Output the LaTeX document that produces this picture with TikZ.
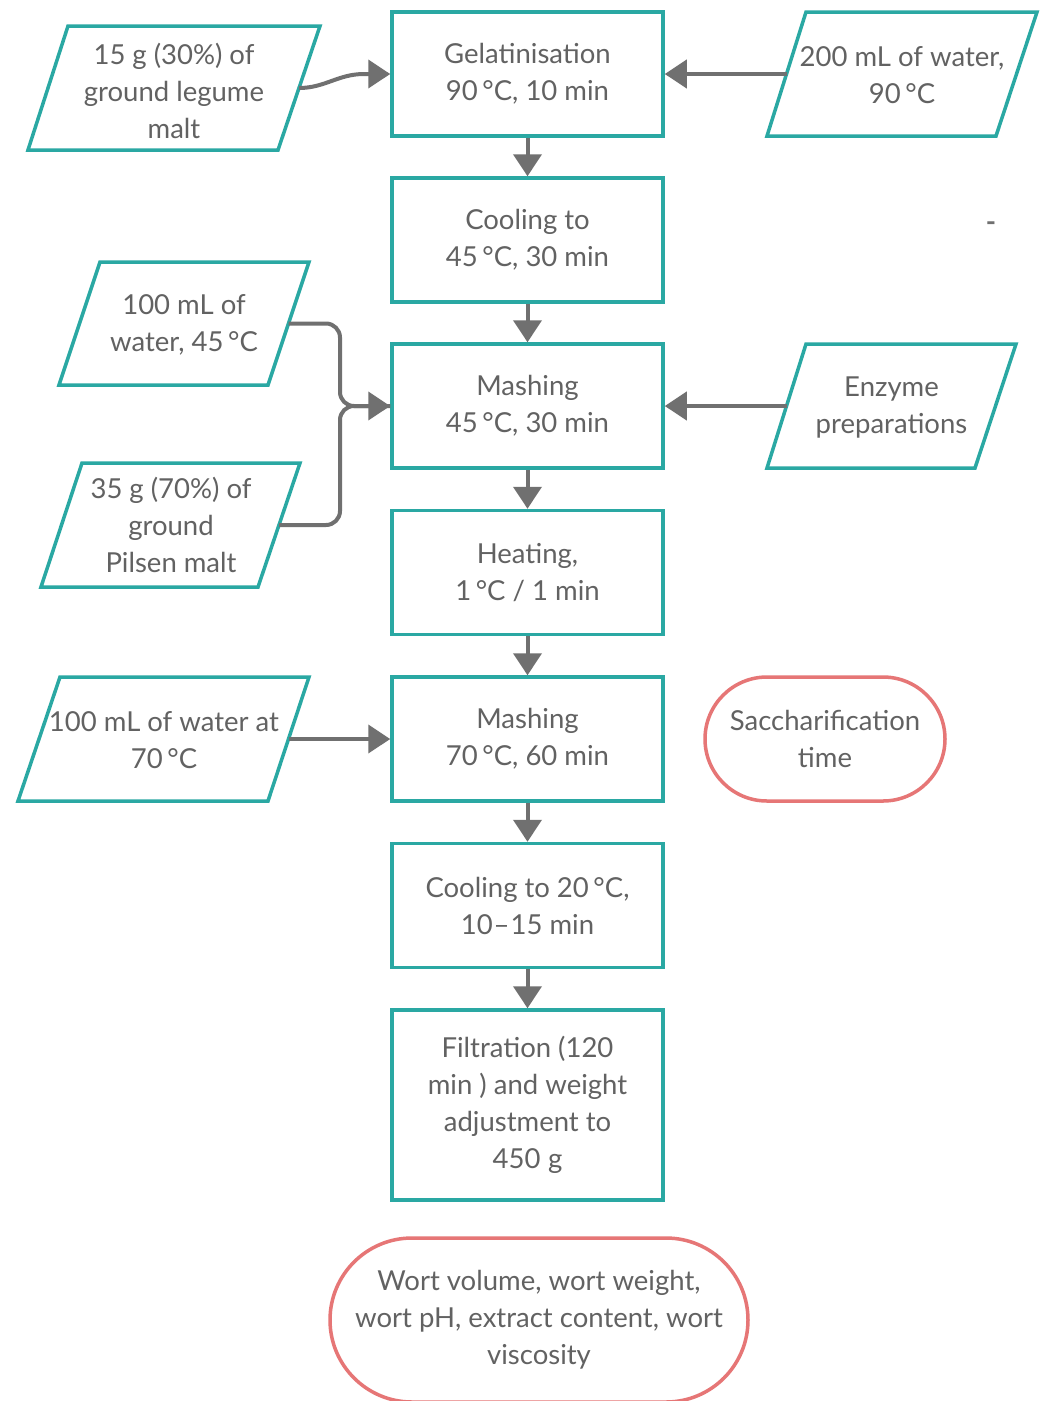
\documentclass[tikz,border=0pt]{standalone}
\usepackage{fontspec}
\setmainfont{Lato}
\usetikzlibrary{arrows.meta,shapes.misc}
\definecolor{flowteal}{RGB}{42,168,163}
\definecolor{flowred}{RGB}{230,118,118}
\definecolor{flowgray}{RGB}{112,112,112}
\definecolor{txtgray}{RGB}{98,98,98}
\begin{document}
\begin{tikzpicture}[x=1pt,y=-1pt,
  every node/.style={font=\fontsize{27.5}{37}\selectfont, text=txtgray, align=center, inner sep=0pt},
  stepbox/.style={draw=flowteal, line width=3.5pt, fill=white, minimum width=271pt, minimum height=124pt},
  para/.style={draw=flowteal, line width=3.5pt, line join=miter},
  term/.style={draw=flowred, line width=3.5pt, rounded rectangle, minimum height=124pt},
  flow/.style={draw=flowgray, line width=4pt, -{Triangle[length=22pt,width=28pt]}},
  link/.style={draw=flowgray, line width=4pt},
]
\useasboundingbox[fill=white] (0,0) rectangle (1043,1401);

% process steps
\node[stepbox] (gel)   at (527.5,74)    {Gelatinisation\\90\,°C, 10 min};
\node[stepbox] (cool1) at (527.5,240)   {Cooling to\\45\,°C, 30 min};
\node[stepbox] (mash1) at (527.5,406)   {Mashing\\45\,°C, 30 min};
\node[stepbox] (heat)  at (527.5,572.5) {Heating,\\1\,°C / 1 min};
\node[stepbox] (mash2) at (527.5,739)   {Mashing\\70\,°C, 60 min};
\node[stepbox] (cool2) at (527.5,905.5) {Cooling to 20\,°C,\\10\kern1pt–\kern1pt15 min\hspace{14pt}};
\node[stepbox, minimum height=190pt] (filt) at (527.5,1105)
  {Filtration (120\\min ) and weight\\adjustment to\\450\;g};

% input parallelograms
\draw[para] (68,26) -- (320,26) -- (278,150) -- (28,150) -- cycle;
\node (p1) at (174,91) {\fontsize{27.5}{33}\selectfont 15 g (30\%) of\\ground legume\\malt};
\coordinate (p1out) at (299,88);

\draw[para] (806,12) -- (1037,12) -- (996,136) -- (767,136) -- cycle;
\node (p2) at (902,75) {200 mL of water,\\90\,°C};
\coordinate (p2out) at (786.5,74);

\draw[para] (100,262) -- (309,262) -- (268,385) -- (59,385) -- cycle;
\node (p3) at (184,325) {100 mL of\\water, 45\,°C};
\coordinate (p3out) at (288.5,323.5);

\draw[para] (82,463) -- (300,463) -- (258,587) -- (41,587) -- cycle;
\node (p4) at (171,525) {\fontsize{27.5}{29}\selectfont 35 g (70\%) of\\ground\\Pilsen malt};
\coordinate (p4out) at (279,525);

\draw[para] (806,344) -- (1016,344) -- (975,468) -- (767,468) -- cycle;
\node (p5) at (891.5,407) {Enzyme\\preparations};
\coordinate (p5out) at (786.5,406);

\draw[para] (60,677) -- (309,677) -- (268,801) -- (18,801) -- cycle;
\node (p6) at (164,740) {100 mL of water at\\70\,°C};
\coordinate (p6out) at (288.5,739);

% measured quantities
\node[term, minimum width=240pt] (sacc) at (825,739) {Saccharification\\time};
\node[term, minimum width=418pt, minimum height=164pt] (wort) at (539,1320)
  {Wort volume, wort weight,\\wort pH, extract content, wort\\viscosity};

\node[text=flowgray, font=\fontsize{27.5}{37}\bfseries] (dash) at (991,227) {-};

% main flow
\draw[flow] (gel) -- (cool1);
\draw[flow] (cool1) -- (mash1);
\draw[flow] (mash1) -- (heat);
\draw[flow] (heat) -- (mash2);
\draw[flow] (mash2) -- (cool2);
\draw[flow] (cool2) -- (filt);

% side inputs
\coordinate (bend) at (364,74);
\draw[flow] (p1out) to[out=0,in=180] (bend) -- (gel.west);
\draw[flow] (p2out) -- (gel.east);
\coordinate (join) at (340,406);
\draw[flow, rounded corners=14pt] (p3out) -| (join) -- (mash1.west);
\draw[link, rounded corners=14pt] (p4out) -| (join) -- (mash1.west);
\draw[flow] (p5out) -- (mash1.east);
\draw[flow] (p6out) -- (mash2.west);
\end{tikzpicture}
\end{document}
